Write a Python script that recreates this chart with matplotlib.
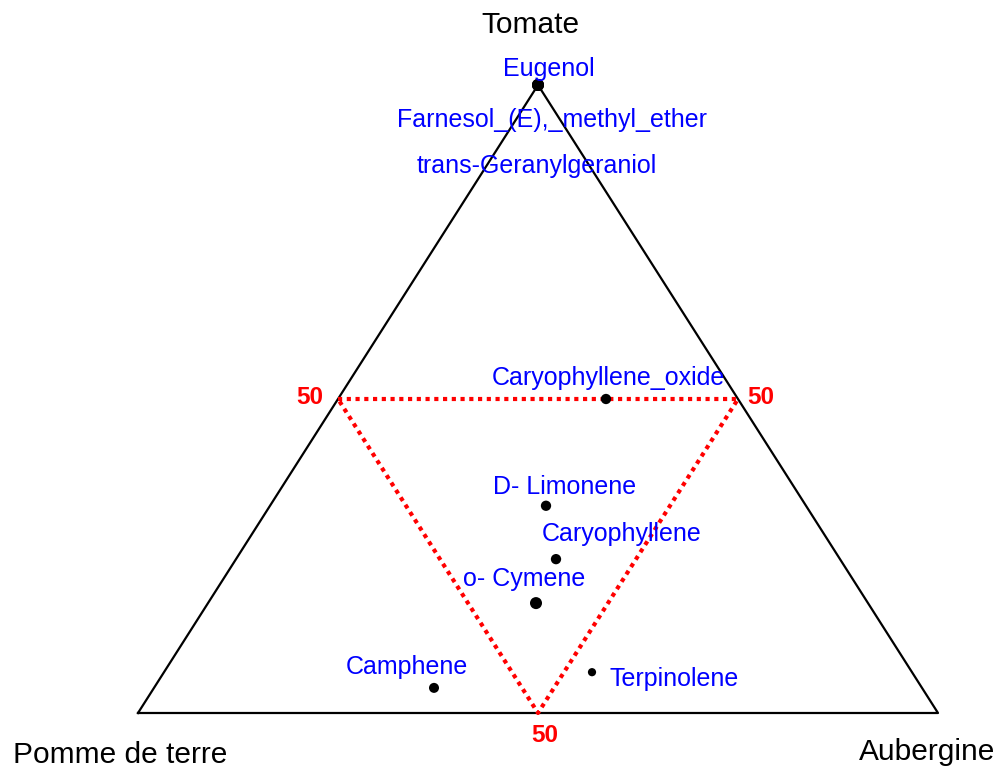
import numpy as np
import matplotlib
matplotlib.use("Agg")
import matplotlib.pyplot as plt

plt.rcParams['font.family'] = ['Liberation Sans', 'DejaVu Sans']

# ternary data: Tomate (top), Pomme de terre (left), Aubergine (right)
compounds = ["Eugenol", "Farnesol_(E),_methyl_ether", "trans-Geranylgeraniol",
             "Caryophyllene_oxide", "D- Limonene", "Caryophyllene",
             "o- Cymene", "Camphene", "Terpinolene"]
tomate = [1.00, 1.00, 1.00, 0.50, 0.33, 0.245, 0.175, 0.04, 0.065]
pomme = [0.00, 0.00, 0.00, 0.165, 0.325, 0.355, 0.415, 0.61, 0.40]
aubergine = [0.00, 0.00, 0.00, 0.335, 0.345, 0.40, 0.41, 0.35, 0.535]
point_size = [75, 75, 75, 55, 55, 55, 75, 52, 35]
# label offsets in pixels (repelled labels)
label_dx = [11, 14, -1, 2, 19, 66, -12, -27, 82]
label_dy = [16, -35, -81, 21, 19, 25, 24, 21, -7]

vertices = ["Tomate", "Pomme de terre", "Aubergine"]


def to_xy(t, p, a):
    t = np.asarray(t, float)
    a = np.asarray(a, float)
    p = np.asarray(p, float)
    s = t + p + a
    return (a + t / 2) / s, t / s


fig = plt.figure(figsize=(10.01, 7.71), dpi=100)
ax = fig.add_axes([138 / 1001, 58 / 771, 800 / 1001, 628 / 771])
ax.set_xlim(0, 1)
ax.set_ylim(0, 1)
ax.axis('off')

# outer triangle
ax.plot([0, 1, 0.5, 0], [0, 0, 1, 0], color='black', lw=1.6, clip_on=False,
        zorder=2)

# 50% inner triangle
mx, my = to_xy([0.5, 0.5, 0.0, 0.5], [0.5, 0.0, 0.5, 0.5], [0.0, 0.5, 0.5, 0.0])
ax.plot(mx, my, color='red', lw=3.0, linestyle=(0, (1, 1.1)), clip_on=False,
        zorder=3)
ax.annotate("50", (mx[0], my[0]), xytext=(-28, 2), textcoords='offset pixels',
            color='red', fontweight='bold', fontsize=17.5, ha='center', va='center')
ax.annotate("50", (mx[1], my[1]), xytext=(23, 2), textcoords='offset pixels',
            color='red', fontweight='bold', fontsize=17.5, ha='center', va='center')
ax.annotate("50", (mx[2], my[2]), xytext=(7, -22), textcoords='offset pixels',
            color='red', fontweight='bold', fontsize=17.5, ha='center', va='center')

# points
px, py = to_xy(tomate, pomme, aubergine)
ax.scatter(px, py, s=point_size, color='black', zorder=5, clip_on=False,
           linewidths=0)

for i, name in enumerate(compounds):
    ax.annotate(name, (px[i], py[i]), xytext=(label_dx[i], label_dy[i]),
                textcoords='offset pixels', color='#0000ff', fontsize=18,
                ha='center', va='center', zorder=6)

# vertex labels
ax.annotate(vertices[0], (0.5, 1), xytext=(-8, 60), textcoords='offset pixels',
            fontsize=21.5, ha='center', va='center')
ax.annotate(vertices[1], (0, 0), xytext=(-18, -42), textcoords='offset pixels',
            fontsize=21.5, ha='center', va='center')
ax.annotate(vertices[2], (1, 0), xytext=(-11, -39), textcoords='offset pixels',
            fontsize=21.5, ha='center', va='center')

fig.savefig("out.png", dpi=100, facecolor='white')
